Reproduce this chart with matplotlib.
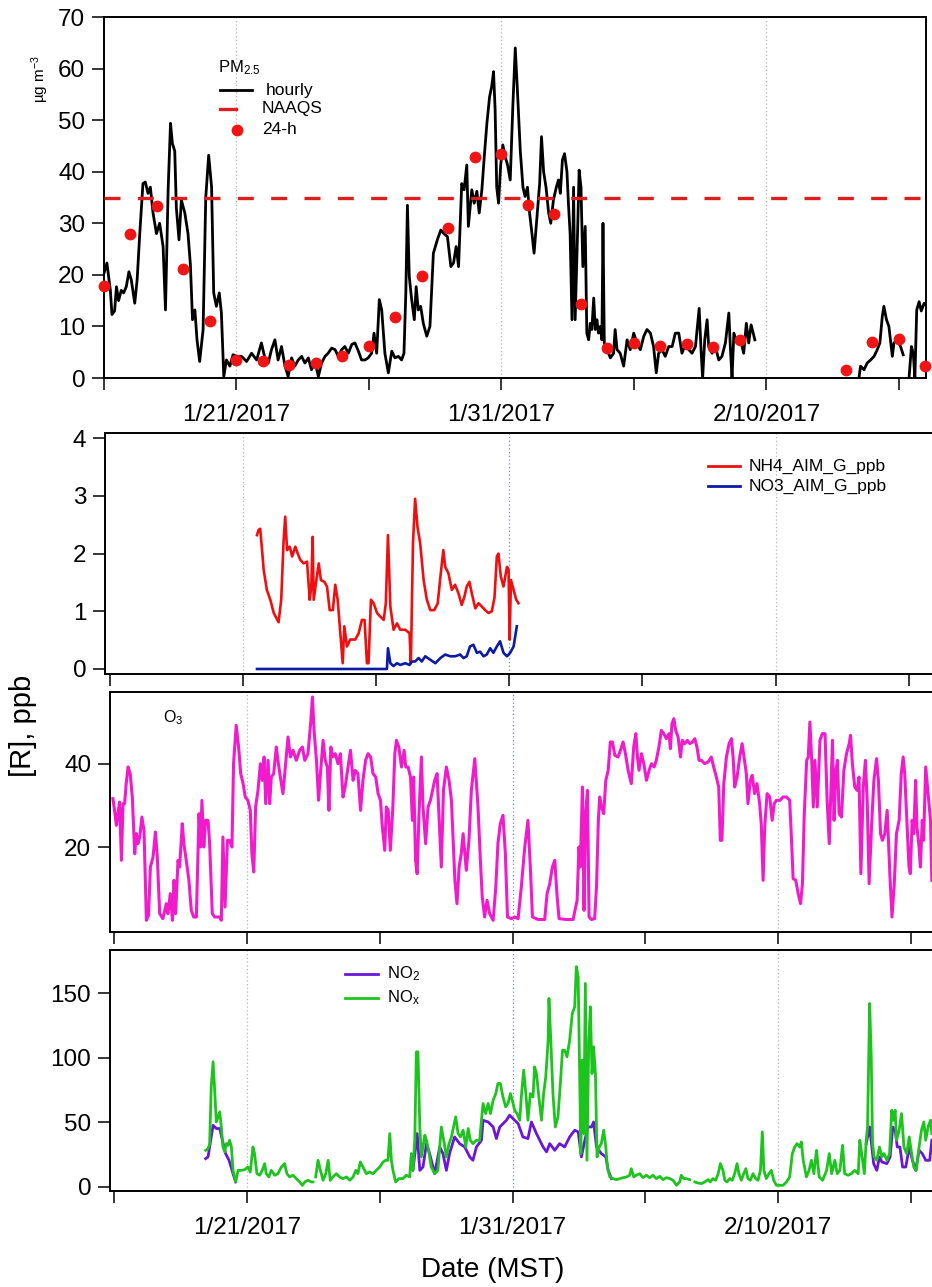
import numpy as np
import matplotlib
matplotlib.use('Agg')
import matplotlib.pyplot as plt
from matplotlib.lines import Line2D
from datetime import datetime, timedelta

plt.rcParams['font.family'] = ['Liberation Sans', 'DejaVu Sans']
plt.rcParams['mathtext.fontset'] = 'custom'
plt.rcParams['mathtext.rm'] = 'Liberation Sans'
plt.rcParams['mathtext.it'] = 'Liberation Sans:italic'
plt.rcParams['mathtext.default'] = 'regular'

# time axis: days after 2017-01-16 00:00 MST
t0 = datetime(2017, 1, 16)
tick_days = [0, 5, 10, 15, 20, 25, 30]
label_days = [5, 15, 25]

# PM2.5 hourly (day, ug m-3); nan marks missing data
pm_hourly = [
    (0.00, 20.3), (0.11, 22.3), (0.24, 17), (0.30, 12.3), (0.40, 13), (0.47, 17.7), (0.55, 15),
    (0.65, 17), (0.74, 16.5), (0.84, 17.7), (0.94, 20.6), (1.03, 19), (1.16, 14.5), (1.25, 19),
    (1.35, 28), (1.47, 37.7), (1.56, 38), (1.66, 35.8), (1.75, 37), (1.85, 32), (1.98, 28),
    (2.10, 30), (2.23, 25.5), (2.32, 13.2), (2.42, 36.5), (2.51, 49.4), (2.58, 45.5), (2.67, 44),
    (2.73, 33), (2.83, 26.8), (2.92, 34.5), (3.05, 32), (3.17, 28), (3.26, 22), (3.34, 11.3),
    (3.43, 13.2), (3.51, 7.4), (3.61, 3.2), (3.74, 9.4), (3.84, 35), (3.95, 43.2), (4.06, 37),
    (4.14, 16.5), (4.24, 13.9), (4.35, 16.5), (4.43, 12.6), (4.52, 0.3), (4.62, 3.5), (4.75, 2.3),
    (4.87, 4.5), (5.00, 4.2), (5.19, 4.2), (5.38, 3.2), (5.57, 4.8), (5.76, 3.5), (5.94, 6.8),
    (6.07, 3.9), (6.20, 2.9), (6.32, 5.5), (6.45, 7.4), (6.57, 3.5), (6.70, 6.1), (6.83, 2.3),
    (6.95, 0.3), (7.08, 3.9), (7.20, 2.3), (7.33, 3.5), (7.46, 4.2), (7.58, 2.9), (7.71, 3.9),
    (7.83, 1.6), (7.96, 3.2), (8.09, 0.3), (8.21, 2.9), (8.34, 4.2), (8.46, 4.8), (8.59, 5.8),
    (8.72, 5.5), (8.84, 4.2), (8.97, 5.5), (9.09, 6.1), (9.22, 4.8), (9.35, 6.5), (9.47, 6.8),
    (9.60, 5.2), (9.72, 3.5), (9.85, 3.5), (9.97, 3.9), (10.10, 4.8), (10.19, 8.7), (10.29, 4.8),
    (10.39, 15.2), (10.48, 13.2), (10.60, 4.8), (10.73, 1), (10.86, 5.2), (10.98, 3.9),
    (11.11, 4.2), (11.23, 3.5), (11.32, 4.8), (11.39, 16.5), (11.45, 33.5), (11.52, 19.7),
    (11.61, 15.2), (11.71, 11.3), (11.78, 17.7), (11.86, 13.2), (11.95, 13.9), (12.05, 10.6),
    (12.18, 8.1), (12.30, 10), (12.43, 24.2), (12.58, 26.8), (12.71, 28.7), (12.83, 28),
    (12.96, 27.4), (13.09, 21.6), (13.19, 22.3), (13.29, 25.5), (13.38, 21.6), (13.50, 37.7),
    (13.59, 36.5), (13.69, 41.3), (13.75, 29.4), (13.88, 36.5), (13.97, 33.9), (14.07, 36.2),
    (14.16, 32), (14.26, 36.5), (14.35, 42.9), (14.45, 49.4), (14.55, 54.5), (14.63, 56.5),
    (14.70, 59.4), (14.76, 52), (14.82, 37), (14.89, 33.9), (14.97, 41.3), (15.05, 45.2),
    (15.14, 42.9), (15.23, 41.3), (15.33, 38.4), (15.43, 52.9), (15.52, 64), (15.60, 55.9),
    (15.71, 44), (15.81, 37), (15.89, 35.2), (15.98, 37), (16.06, 32), (16.15, 28), (16.23, 24.2),
    (16.33, 30.6), (16.44, 37.7), (16.51, 46.8), (16.59, 40), (16.68, 37), (16.78, 32), (16.86, 30),
    (16.96, 34.5), (17.07, 37), (17.15, 38.4), (17.22, 35.8), (17.30, 42.3), (17.38, 43.5),
    (17.47, 40), (17.53, 33.5), (17.59, 28), (17.66, 11.3), (17.72, 37), (17.78, 11.3), (17.87, 28),
    (17.93, 40.3), (18.00, 37), (18.07, 21.6), (18.16, 29.4), (18.22, 8.7), (18.29, 7.4),
    (18.35, 10.6), (18.41, 9.4), (18.48, 15.5), (18.54, 9.4), (18.60, 11.3), (18.66, 8.7),
    (18.73, 10), (18.79, 7.4), (18.83, 30), (18.88, 6.8), (18.98, 5.5), (19.11, 3.9), (19.23, 4.8),
    (19.29, 9.4), (19.36, 5.5), (19.48, 4.8), (19.61, 2.3), (19.74, 7.4), (19.86, 5.5), (19.99, 8.7),
    (20.11, 6.8), (20.24, 5.5), (20.37, 8.1), (20.49, 9.4), (20.62, 8.7), (20.74, 6.1), (20.84, 1),
    (20.93, 4.8), (21.06, 5.5), (21.18, 4.2), (21.31, 6.1), (21.44, 6.1), (21.56, 8.7), (21.69, 8.7),
    (21.81, 4.8), (21.94, 6.5), (22.07, 5.5), (22.19, 4.8), (22.32, 6.1), (22.46, 13.5), (22.53, 5.5),
    (22.59, 0), (22.67, 7.4), (22.76, 11.3), (22.82, 6.1), (22.95, 4.8), (23.07, 6.1), (23.20, 3.5),
    (23.32, 4.2), (23.45, 6.8), (23.58, 12.6), (23.64, 5.5), (23.70, 0), (23.77, 8.7), (23.89, 6.8),
    (24.02, 7.4), (24.14, 4.8), (24.24, 10.6), (24.33, 6.8), (24.42, 10.3), (24.50, 8.7),
    (24.56, 7.4), (24.60, np.nan),
    (28.49, 0), (28.55, 2.3), (28.68, 1.6), (28.80, 2.9), (28.93, 3.5), (29.06, 4.2), (29.18, 5.5),
    (29.28, 6.8), (29.37, 11.9), (29.43, 13.9), (29.53, 11.3), (29.62, 10), (29.69, 6.8),
    (29.75, 4.2), (29.81, 6.8), (29.94, 7.4), (30.06, 6.1), (30.16, 4.5), (30.25, np.nan),
    (30.38, 0), (30.47, 6.1), (30.54, 4.8), (30.60, 0), (30.67, 13.2), (30.76, 14.8), (30.84, 13),
    (30.95, 14.5), (31.05, 13.9),
]

# PM2.5 24-h averages
pm24_day = [0, 1, 2, 3, 4, 5, 6, 7, 8, 9, 10, 11, 12, 13, 14, 15, 16, 17, 18, 19, 20, 21, 22, 23, 24,
            28, 29, 30, 31]
pm24_val = [17.9, 27.9, 33.4, 21.1, 11.0, 3.5, 3.2, 2.5, 2.9, 4.3, 6.3, 11.8, 19.7, 29.1, 42.8,
            43.4, 33.5, 31.8, 14.4, 5.8, 6.8, 6.3, 6.5, 6.0, 7.3, 1.5, 7.0, 7.6, 2.3]
naaqs = 35

# AIM gas-phase NH3 / HNO3 (ppb)
nh4_aim = [
    (5.52, 2.32), (5.58, 2.41), (5.64, 2.43), (5.71, 2.06), (5.77, 1.72), (5.89, 1.37), (6.02, 1.2),
    (6.15, 0.97), (6.33, 0.81), (6.43, 1.2), (6.52, 2.23), (6.58, 2.64), (6.65, 2.06), (6.75, 2.12),
    (6.84, 1.95), (6.96, 2.12), (7.05, 2.0), (7.15, 1.89), (7.27, 1.83), (7.40, 1.86), (7.50, 1.2),
    (7.56, 1.43), (7.61, 2.29), (7.65, 1.2), (7.75, 1.54), (7.84, 1.83), (7.92, 1.54), (8.05, 1.51),
    (8.15, 1.43), (8.25, 1.02), (8.37, 1.02), (8.46, 1.46), (8.55, 1.2), (8.65, 0.62), (8.74, 0.1),
    (8.80, 0.74), (8.90, 0.39), (9.02, 0.51), (9.21, 0.51), (9.34, 0.62), (9.46, 0.85), (9.56, 0.85),
    (9.65, 0.1), (9.71, 0.1), (9.80, 1.2), (9.90, 1.14), (10.03, 0.97), (10.15, 0.91), (10.28, 0.85),
    (10.36, 1.14), (10.44, 2.32), (10.53, 1.08), (10.65, 0.68), (10.78, 0.79), (10.90, 0.68),
    (11.09, 0.68), (11.25, 0.62), (11.30, 0.1), (11.38, 2.18), (11.46, 2.95), (11.55, 2.46),
    (11.65, 2.18), (11.78, 1.54), (11.90, 1.2), (12.03, 1.02), (12.18, 1.02), (12.31, 1.14),
    (12.41, 1.6), (12.52, 2.06), (12.59, 1.77), (12.71, 1.66), (12.84, 1.37), (12.96, 1.46),
    (13.09, 1.31), (13.21, 1.11), (13.31, 1.25), (13.40, 1.43), (13.50, 1.51), (13.59, 1.31),
    (13.72, 1.05), (13.84, 1.14), (13.97, 1.08), (14.09, 1.02), (14.22, 0.97), (14.34, 1.0),
    (14.44, 1.23), (14.53, 1.95), (14.59, 2.0), (14.68, 1.6), (14.78, 1.43), (14.91, 1.77),
    (14.97, 1.72), (15.01, 0.51), (15.06, 1.54), (15.16, 1.37), (15.26, 1.2), (15.34, 1.14),
]
no3_aim = [
    (5.52, 0), (10.40, 0), (10.44, 0.36), (10.53, 0.1), (10.65, 0.05), (10.78, 0.1), (10.90, 0.07),
    (11.09, 0.1), (11.25, 0.07), (11.34, 0.13), (11.46, 0.13), (11.59, 0.19), (11.71, 0.13),
    (11.84, 0.22), (12.03, 0.16), (12.22, 0.1), (12.41, 0.19), (12.59, 0.25), (12.78, 0.22),
    (12.96, 0.22), (13.15, 0.25), (13.28, 0.19), (13.40, 0.22), (13.52, 0.39), (13.65, 0.42),
    (13.78, 0.28), (13.90, 0.3), (14.03, 0.22), (14.15, 0.25), (14.28, 0.36), (14.40, 0.28),
    (14.53, 0.39), (14.65, 0.48), (14.78, 0.28), (14.91, 0.22), (15.03, 0.28), (15.16, 0.39),
    (15.28, 0.74),
]

# ozone (ppb)
o3 = [
    (-0.04, 31.6), (0.03, 28.4), (0.09, 25.2), (0.15, 28), (0.21, 30.8), (0.28, 16.8), (0.34, 30.4),
    (0.40, 30.4), (0.46, 35.2), (0.53, 39.2), (0.61, 37.6), (0.69, 32), (0.78, 18.4), (0.84, 23.2),
    (0.90, 20.8), (0.97, 22.4), (1.05, 27.2), (1.13, 24), (1.22, 2.4), (1.30, 3.6), (1.37, 15.2),
    (1.47, 17.6), (1.56, 23.6), (1.63, 17.6), (1.72, 4), (1.84, 2.8), (1.97, 6.4), (2.03, 4),
    (2.12, 8.8), (2.20, 2.4), (2.26, 12), (2.32, 4), (2.41, 16.8), (2.47, 15.2), (2.57, 25.6),
    (2.63, 20.8), (2.72, 16.8), (2.82, 12), (2.91, 4.8), (3.00, 3.2), (3.10, 3.2), (3.16, 17.6),
    (3.20, 28), (3.26, 20), (3.31, 31.2), (3.38, 20), (3.45, 26.4), (3.54, 26.4), (3.60, 20.8),
    (3.70, 4), (3.79, 3.2), (3.98, 3.2), (4.04, 2.4), (4.10, 22.4), (4.18, 5.6), (4.27, 21.6),
    (4.35, 21.6), (4.44, 20), (4.50, 40), (4.60, 49.2), (4.69, 44), (4.77, 37.6), (4.86, 35.2),
    (4.94, 32), (5.04, 31.2), (5.13, 28.8), (5.19, 18.4), (5.26, 14), (5.33, 29.6), (5.42, 33.6),
    (5.51, 40), (5.58, 36), (5.65, 41.6), (5.71, 30.4), (5.80, 40.8), (5.86, 30.4), (5.92, 36.8),
    (6.01, 37.6), (6.11, 44), (6.17, 40.8), (6.26, 36.8), (6.36, 32.8), (6.45, 39.2), (6.55, 46.4),
    (6.64, 41.6), (6.74, 43.2), (6.86, 40.8), (6.99, 43.2), (7.09, 44), (7.18, 40.8), (7.30, 42.4),
    (7.40, 49.6), (7.47, 56), (7.53, 48), (7.62, 40.8), (7.70, 31.2), (7.78, 38.4), (7.87, 45.6),
    (7.95, 40.8), (8.03, 39.2), (8.09, 28.8), (8.16, 44), (8.24, 41.6), (8.33, 42.4), (8.43, 40),
    (8.52, 42.4), (8.62, 32), (8.70, 34.4), (8.81, 39.2), (8.90, 43.2), (9.00, 36), (9.08, 38.4),
    (9.18, 37.6), (9.28, 28.8), (9.37, 36), (9.47, 40.8), (9.56, 42.4), (9.66, 41.6), (9.75, 37.6),
    (9.85, 36.8), (9.94, 32.8), (10.03, 31.2), (10.10, 24.8), (10.19, 19.2), (10.25, 29.6),
    (10.32, 28.8), (10.40, 19.2), (10.49, 28.8), (10.57, 42.4), (10.63, 45.6), (10.72, 44),
    (10.82, 39.2), (10.92, 43.2), (10.98, 39.2), (11.07, 39.2), (11.16, 36.8), (11.23, 26.4),
    (11.28, 36.8), (11.35, 16.8), (11.41, 13.6), (11.48, 28), (11.57, 41.6), (11.63, 29.6),
    (11.73, 20.8), (11.82, 29.6), (11.91, 31.2), (11.99, 33.6), (12.07, 36), (12.16, 37.6),
    (12.23, 28), (12.32, 15.2), (12.40, 33.6), (12.51, 39.2), (12.61, 36), (12.70, 31.2),
    (12.76, 22.4), (12.83, 12), (12.91, 6.4), (12.99, 15.2), (13.07, 18.4), (13.14, 23.2),
    (13.26, 14.4), (13.36, 21.6), (13.45, 33.6), (13.58, 41.2), (13.70, 29.6), (13.79, 16.8),
    (13.86, 8), (13.95, 3.2), (14.04, 7.2), (14.14, 4), (14.27, 2.4), (14.37, 10.4), (14.45, 20.8),
    (14.54, 25.6), (14.64, 27.6), (14.73, 18.4), (14.81, 3.2), (14.96, 2.8), (15.08, 3.2),
    (15.21, 2.8), (15.33, 10.4), (15.46, 20), (15.58, 26.4), (15.67, 15.2), (15.75, 3.2),
    (15.96, 2.6), (16.21, 2.6), (16.30, 8.8), (16.40, 11.2), (16.50, 15.2), (16.59, 16.8),
    (16.67, 8.8), (16.75, 2.8), (17.03, 2.6), (17.28, 2.6), (17.43, 7.2), (17.50, 20), (17.55, 15.2),
    (17.63, 34.4), (17.69, 4.8), (17.75, 28), (17.82, 33.6), (17.88, 3.2), (17.97, 2.6),
    (18.09, 2.8), (18.16, 10.4), (18.23, 26.4), (18.28, 32), (18.35, 29.6), (18.43, 28), (18.51, 36),
    (18.60, 38.4), (18.68, 45.2), (18.76, 45.2), (18.85, 42), (18.97, 41.6), (19.06, 43.2),
    (19.16, 45.2), (19.25, 42.4), (19.35, 38.4), (19.47, 35.2), (19.56, 44), (19.64, 47.2),
    (19.70, 41.6), (19.76, 38.4), (19.85, 42.4), (19.94, 40), (20.04, 36), (20.14, 38.4),
    (20.23, 40), (20.33, 39.2), (20.41, 40.8), (20.51, 44), (20.60, 48), (20.69, 47.2), (20.79, 46),
    (20.89, 47.2), (20.94, 43.6), (21.00, 49.6), (21.07, 50.8), (21.14, 48), (21.23, 46.4),
    (21.32, 41.6), (21.39, 45.6), (21.48, 44.8), (21.58, 45.6), (21.67, 44.8), (21.77, 45.2),
    (21.86, 46), (21.94, 44), (22.02, 40.8), (22.11, 40.8), (22.23, 40), (22.36, 40.4), (22.48, 41.6),
    (22.57, 39.2), (22.67, 36.8), (22.76, 34.4), (22.82, 21.6), (22.88, 21.6), (22.95, 35.2),
    (23.05, 41.6), (23.15, 44.8), (23.24, 46), (23.30, 41.6), (23.36, 34.4), (23.45, 36.8),
    (23.55, 41.6), (23.64, 44.8), (23.71, 41.6), (23.80, 37.6), (23.86, 30.4), (23.95, 36),
    (24.02, 37.2), (24.11, 32.8), (24.20, 35.2), (24.30, 30.4), (24.36, 25.6), (24.43, 12),
    (24.49, 24.8), (24.58, 32.8), (24.68, 32), (24.77, 26.4), (24.85, 30.4), (24.93, 31.2),
    (25.06, 31.2), (25.18, 32), (25.31, 32), (25.43, 31.2), (25.50, 21.6), (25.56, 12.4), (25.66, 12),
    (25.75, 8.8), (25.84, 6.4), (25.91, 11.2), (25.98, 28), (26.07, 40.8), (26.13, 41.6), (26.19, 50),
    (26.26, 40.8), (26.32, 29.6), (26.38, 40.8), (26.47, 29.6), (26.57, 45.6), (26.66, 47.2),
    (26.76, 47.2), (26.84, 31.2), (26.92, 20.8), (26.98, 33.6), (27.04, 45.6), (27.10, 26.4),
    (27.17, 38.4), (27.23, 40.8), (27.29, 28), (27.38, 27.2), (27.47, 38.4), (27.57, 42.4),
    (27.67, 44.8), (27.72, 46.8), (27.79, 40), (27.88, 34.4), (27.97, 33.6), (28.04, 36.8),
    (28.11, 13.6), (28.20, 34.4), (28.28, 40.8), (28.35, 30.4), (28.42, 11.2), (28.51, 24.8),
    (28.60, 36), (28.70, 41.2), (28.77, 36), (28.85, 23.2), (28.92, 21.6), (29.01, 23.2),
    (29.10, 28.8), (29.20, 13.6), (29.28, 3.2), (29.36, 10.4), (29.45, 23.2), (29.55, 26.4),
    (29.63, 37.6), (29.70, 41.6), (29.76, 37.6), (29.85, 24.8), (29.92, 15.2), (29.97, 13.6),
    (30.04, 26.4), (30.10, 23.2), (30.17, 36), (30.22, 24.8), (30.30, 20), (30.35, 15.2),
    (30.42, 26.4), (30.47, 21.6), (30.55, 39.2), (30.64, 32.8), (30.73, 26.4), (30.78, 12),
]

# NOx (ppb)
nox = [
    (3.45, 28.4), (3.54, 29.7), (3.60, 33.6), (3.66, 77.6), (3.73, 97), (3.79, 75), (3.85, 50.4),
    (3.92, 54.3), (3.98, 58.2), (4.04, 46.5), (4.10, 31), (4.17, 27.2), (4.23, 33.6), (4.29, 32.3),
    (4.35, 36.2), (4.42, 31), (4.48, 12.9), (4.58, 3.9), (4.67, 12.9), (4.79, 12.9), (4.92, 13.4),
    (5.04, 15.5), (5.13, 11.6), (5.23, 31), (5.29, 25.9), (5.38, 10.3), (5.48, 9.1), (5.58, 12.9),
    (5.67, 18.1), (5.73, 10.3), (5.83, 7.8), (5.92, 12.9), (6.05, 9.1), (6.17, 10.3), (6.30, 15.5),
    (6.42, 18.1), (6.51, 10.3), (6.61, 7.8), (6.74, 9.1), (6.86, 6.5), (6.99, 3.9), (7.09, 1.3),
    (7.18, 3.9), (7.30, 5.2), (7.43, 3.9), (7.49, 3.9), (7.54, np.nan),
    (7.59, 7.8), (7.68, 20.7), (7.77, 12.9), (7.87, 5.2), (7.97, 10.3), (8.06, 20.7), (8.14, 5.2),
    (8.24, 7.8), (8.37, 10.3), (8.49, 7.8), (8.62, 6.5), (8.75, 7.8), (8.87, 5.2), (9.00, 7.8),
    (9.10, 12.9), (9.18, 10.3), (9.27, 19.4), (9.37, 15.5), (9.50, 10.3), (9.62, 11.6), (9.75, 10.3),
    (9.87, 12.9), (10.00, 15.5), (10.13, 19.4), (10.23, 20.7), (10.31, 20.7), (10.38, 41.4),
    (10.44, 20.7), (10.50, 12.9), (10.60, 3.9), (10.73, 6.5), (10.88, 6.5), (11.00, 9.1),
    (11.13, 7.8), (11.19, 25.9), (11.25, 12.9), (11.32, 36.2), (11.38, 104.7), (11.44, 104.7),
    (11.51, 46.5), (11.57, 23.3), (11.63, 31), (11.70, 40.1), (11.76, 36.2), (11.86, 25.9),
    (11.94, 15.5), (12.07, 10.3), (12.19, 12.9), (12.32, 46.5), (12.41, 36.2), (12.51, 23.3),
    (12.61, 33.6), (12.70, 38.8), (12.78, 46.5), (12.86, 54.3), (12.95, 41.4), (13.04, 38.8),
    (13.14, 44), (13.24, 31), (13.33, 45.3), (13.41, 36.2), (13.51, 33.6), (13.64, 36.2),
    (13.76, 36.2), (13.89, 64.7), (13.99, 56.9), (14.08, 64.7), (14.17, 56.9), (14.27, 67.2),
    (14.37, 72.4), (14.45, 80.2), (14.54, 80.2), (14.64, 69.8), (14.74, 62.1), (14.83, 64.7),
    (14.92, 72.4), (14.99, 67.2), (15.08, 59.5), (15.17, 56.9), (15.27, 51.7), (15.33, 69.8),
    (15.42, 90.5), (15.50, 72.4), (15.58, 51.7), (15.67, 72.4), (15.77, 69.8), (15.83, 93.1),
    (15.90, 87.9), (15.99, 69.8), (16.09, 51.7), (16.17, 72.4), (16.25, 85.3), (16.34, 113.8),
    (16.37, 146.1), (16.44, 113.8), (16.52, 72.4), (16.61, 46.5), (16.71, 54.3), (16.80, 80.2),
    (16.88, 106), (16.96, 106), (17.05, 100.9), (17.15, 113.8), (17.25, 134.5), (17.34, 139.6),
    (17.40, 170.7), (17.47, 162.9), (17.53, 82.8), (17.57, 25.9), (17.62, 98.3), (17.68, 41.4),
    (17.74, 157.7), (17.80, 20.7), (17.87, 113.8), (17.93, 139.6), (17.99, 87.9), (18.05, 108.6),
    (18.12, 87.9), (18.18, 23.3), (18.26, 31), (18.34, 33.6), (18.43, 44), (18.51, 31),
    (18.57, 15.5), (18.66, 7.8), (18.78, 6.5), (18.91, 5.7), (19.04, 6.5), (19.16, 7.2), (19.29, 7.8),
    (19.41, 9.1), (19.47, 14.2), (19.56, 7.8), (19.66, 9.1), (19.79, 10.3), (19.91, 7.2),
    (20.04, 9.1), (20.16, 7.2), (20.29, 9.1), (20.41, 6.5), (20.54, 8.3), (20.66, 5.7), (20.79, 7.2),
    (20.92, 6.5), (21.04, 5.2), (21.17, 1.3), (21.29, 3.9), (21.35, 9.1), (21.44, 6.5), (21.54, 6.5),
    (21.67, 5.7), (21.76, np.nan),
    (21.86, 3.9), (21.98, 3.1), (22.11, 2.6), (22.23, 3.9), (22.36, 5.7), (22.44, 3.9), (22.54, 6.5),
    (22.64, 5.2), (22.74, 10.3), (22.82, 18.1), (22.92, 12.9), (22.99, 5.2), (23.07, 3.9),
    (23.17, 6.5), (23.27, 5.2), (23.36, 10.3), (23.45, 18.1), (23.52, 10.3), (23.61, 5.2),
    (23.70, 10.3), (23.78, 14.2), (23.86, 6.5), (23.95, 5.2), (24.05, 10.3), (24.15, 6.5),
    (24.24, 5.2), (24.33, 12.9), (24.40, 42.7), (24.46, 12.9), (24.55, 6.5), (24.65, 10.3),
    (24.74, 12.9), (24.83, 5.2), (24.93, 1.3), (25.06, 1.3), (25.18, 1.3), (25.31, 3.9), (25.43, 7.8),
    (25.53, 25.9), (25.62, 31), (25.71, 33.6), (25.81, 31), (25.87, 34.9), (25.94, 20.7),
    (26.06, 7.8), (26.16, 12.9), (26.25, 20.7), (26.34, 10.3), (26.44, 28.4), (26.54, 7.8),
    (26.67, 5.2), (26.82, 12.9), (26.92, 25.9), (27.01, 10.3), (27.13, 20.7), (27.22, 10.3),
    (27.32, 12.9), (27.42, 32.3), (27.50, 10.3), (27.63, 9.1), (27.75, 10.3), (27.88, 12.9),
    (28.01, 10.3), (28.07, 36.2), (28.14, 25.9), (28.24, 10.3), (28.31, 36.2), (28.36, 46.5),
    (28.44, 142.2), (28.50, 100.9), (28.55, 33.6), (28.61, 23.3), (28.71, 20.7), (28.81, 31),
    (28.90, 23.3), (28.98, 25.9), (29.09, 20.7), (29.19, 25.9), (29.27, 59.5), (29.33, 51.7),
    (29.40, 59.5), (29.45, 36.2), (29.55, 44), (29.64, 56.9), (29.73, 31), (29.83, 25.9),
    (29.93, 38.8), (30.02, 25.9), (30.10, 15.5), (30.20, 12.9), (30.30, 31), (30.39, 44),
    (30.48, 50.4), (30.55, 36.2), (30.64, 46.5), (30.73, 51.7), (30.78, 41.4),
]

# NO2 (ppb), where it separates from NOx
no2 = [
    (3.45, 22), (3.54, 23.3), (3.64, 36.2), (3.73, 47.8), (3.85, 45.3), (3.98, 45.3), (4.08, 36.2),
    (4.20, 25.9), (4.33, 20.7), (4.48, 10.3), (4.58, 3.9), (4.60, np.nan),
    (11.19, 20), (11.25, 12.9), (11.32, 25), (11.41, 41.4), (11.51, 12.9), (11.63, 15.5),
    (11.76, 33.6), (11.88, 25.9), (12.07, 10.3), (12.26, 31), (12.38, 25.9), (12.51, 12.9),
    (12.63, 25.9), (12.82, 38.8), (13.01, 33.6), (13.20, 31), (13.39, 23.3), (13.51, 20.7),
    (13.64, 31), (13.83, 36.2), (13.89, 51.7), (14.08, 50.4), (14.27, 46.5), (14.39, 37.5),
    (14.52, 46.5), (14.77, 51.7), (14.89, 55.6), (15.08, 51.7), (15.21, 49.1), (15.39, 38.8),
    (15.58, 37.5), (15.71, 50.4), (15.90, 41.4), (16.15, 31), (16.28, 27.2), (16.40, 33.6),
    (16.59, 28.4), (16.77, 33.6), (16.96, 31), (17.15, 38.8), (17.34, 44), (17.47, 42.7),
    (17.59, 23.3), (17.72, 36.2), (17.84, 46.5), (17.97, 46.5), (18.05, 50.4), (18.16, 31),
    (18.34, 25.9), (18.51, 23.3), (18.60, 12.9), (18.72, 6.5), (18.75, np.nan),
    (28.31, 33.6), (28.44, 46.5), (28.59, 18.1), (28.71, 12.9), (28.81, 23.3), (28.90, 19.4),
    (29.09, 18.1), (29.21, 23.3), (29.31, 46.5), (29.40, 44), (29.48, 31), (29.58, 31),
    (29.68, 15.5), (29.80, 15.5), (29.93, 31), (30.05, 20.7), (30.17, 12.9), (30.30, 28.4),
    (30.42, 25.9), (30.55, 20.7), (30.70, 20.7), (30.78, 36.2),
]

W, H = 932, 1287
fig = plt.figure(figsize=(W / 100, H / 100), dpi=100)


def box(l, t, r, b):
    return [l / W, 1 - b / H, (r - l) / W, (b - t) / H]


def fx(x):
    return x / W


def fy(y):
    return 1 - y / H


def date_label(d):
    d = t0 + timedelta(days=d)
    return f"{d.month}/{d.day}/{d.year}"


def style(ax, yticks, show_dates, grid_colors):
    for s in ax.spines.values():
        s.set_linewidth(1.4)
    ax.set_yticks(yticks)
    ax.set_xticks(tick_days)
    if show_dates:
        ax.set_xticklabels([date_label(d) if d in label_days else '' for d in tick_days])
    else:
        ax.set_xticklabels([])
    ax.tick_params(axis='both', direction='out', length=8.5, width=1.1, labelsize=17.5)
    ax.tick_params(axis='y', pad=5)
    ax.tick_params(axis='x', pad=10)
    for d, c in zip(label_days, grid_colors):
        ax.axvline(d, color=c, ls=(0, (1, 2)), lw=0.9, zorder=0)


gray = '#b4b4b4'
blue_grid = '#7c88b8'

# --- PM2.5 ---
ax1 = fig.add_axes(box(104, 17, 926, 378))
t, v = np.array(pm_hourly).T
ax1.plot(t, v, color='black', lw=2.0, zorder=3)
ax1.axhline(naaqs, color='#dc1e1e', lw=2.4, ls=(0, (4.8, 5.2)), zorder=4)
ax1.plot(pm24_day, pm24_val, 'o', color='#f01414', ms=8.5, mec='none', zorder=5, clip_on=False)
ax1.set_xlim(0, 31.02)
ax1.set_ylim(0, 70)
style(ax1, range(0, 71, 10), True, [gray, gray, gray])

# --- AIM gases ---
ax2 = fig.add_axes(box(105, 433, 936.6, 674))
t, v = np.array(nh4_aim).T
ax2.plot(t, v, color='#ee1010', lw=1.9, zorder=3)
t, v = np.array(no3_aim).T
ax2.plot(t, v, color='#0c1aa6', lw=1.9, zorder=3)
ax2.set_xlim(-0.19, 31.05)
ax2.set_ylim(-0.087, 4.09)
style(ax2, range(0, 5), False, [gray, blue_grid, gray])

# --- O3 ---
ax3 = fig.add_axes(box(110, 692, 939, 932))
t, v = np.array(o3).T
ax3.plot(t, v, color='#f01ccc', lw=2.2, zorder=3)
ax3.set_xlim(-0.15, 31.05)
ax3.set_ylim(-0.4, 57.2)
style(ax3, [20, 40], False, [gray, blue_grid, gray])

# --- NO2 / NOx ---
ax4 = fig.add_axes(box(110, 950, 939, 1191))
t, v = np.array(no2).T
ax4.plot(t, v, color='#6a16d8', lw=2.0, zorder=3)
t, v = np.array(nox).T
ax4.plot(t, v, color='#1ec41e', lw=2.0, zorder=4)
ax4.set_xlim(-0.15, 31.05)
ax4.set_ylim(-3.1, 183.6)
style(ax4, [0, 50, 100, 150], True, [gray, blue_grid, gray])

# legends and labels
fig.text(fx(218), fy(68), 'PM$_{2.5}$', fontsize=12, va='center')
fig.add_artist(Line2D([fx(220), fx(252)], [fy(90), fy(90)], color='black', lw=2.0))
fig.text(fx(266), fy(90), 'hourly', fontsize=12.5, va='center')
fig.add_artist(Line2D([fx(220), fx(236)], [fy(109), fy(109)], color='#dc1e1e', lw=2.4))
fig.text(fx(262), fy(109), 'NAAQS', fontsize=12.5, va='center')
fig.add_artist(Line2D([fx(237)], [fy(130)], marker='o', color='#f01414', ms=8.5, mec='none'))
fig.text(fx(262), fy(130), '24-h', fontsize=12.5, va='center')

fig.add_artist(Line2D([fx(708), fx(740)], [fy(466), fy(466)], color='#ee1010', lw=2.0))
fig.text(fx(749), fy(466), 'NH4_AIM_G_ppb', fontsize=12.5, va='center')
fig.add_artist(Line2D([fx(708), fx(740)], [fy(486), fy(486)], color='#0c1aa6', lw=2.0))
fig.text(fx(749), fy(486), 'NO3_AIM_G_ppb', fontsize=12.5, va='center')

fig.text(fx(163), fy(718), 'O$_3$', fontsize=11.5, va='center')

fig.add_artist(Line2D([fx(345), fx(378)], [fy(974), fy(974)], color='#6a16d8', lw=2.0))
fig.text(fx(387), fy(974), 'NO$_2$', fontsize=12, va='center')
fig.add_artist(Line2D([fx(345), fx(378)], [fy(998), fy(998)], color='#1ec41e', lw=2.0))
fig.text(fx(387), fy(998), 'NO$_x$', fontsize=12, va='center')

fig.text(fx(40), fy(79), 'µg m$^{-3}$', fontsize=11, rotation=90, ha='center', va='center')
fig.text(fx(23), fy(726), '[R], ppb', fontsize=21, rotation=90, ha='center', va='center')
fig.text(fx(493), fy(1270), 'Date (MST)', fontsize=20, ha='center', va='center')

fig.savefig('out.png', dpi=100)
